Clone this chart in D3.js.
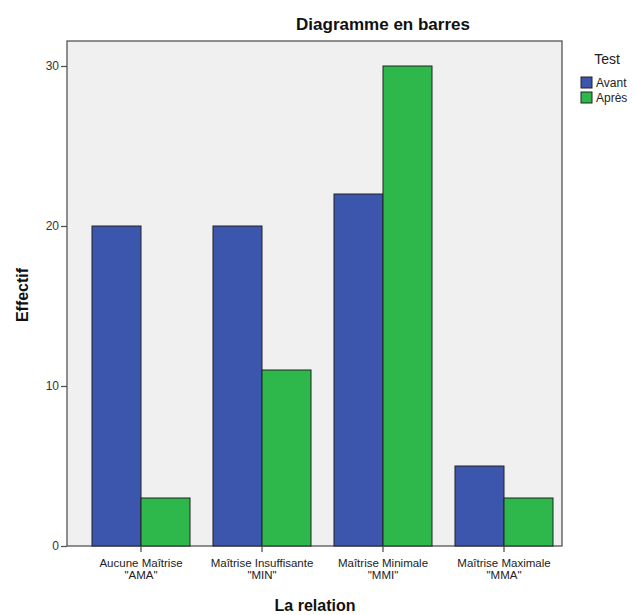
<!DOCTYPE html>
<html>
<head>
<meta charset="utf-8">
<script src="https://d3js.org/d3.v7.min.js"></script>
<style>
body { margin: 0; background: #fff; }
text { font-family: "Liberation Sans", Arial, sans-serif; }
</style>
</head>
<body>
<svg width="635" height="615"></svg>
<script>
// data
var categories = ["Aucune Maîtrise\n\"AMA\"", "Maîtrise Insuffisante\n\"MIN\"", "Maîtrise Minimale\n\"MMI\"", "Maîtrise Maximale\n\"MMA\""];
var series = ["Avant", "Après"];
var avant = [20, 20, 22, 5];
var apres = [3, 11, 30, 3];
var yTicks = [0, 10, 20, 30];
var colors = ["#3d56ad", "#2eb84b"];

var svg = d3.select("svg");

// plot frame
var pLeft = 67, pRight = 562, pTop = 41, pBottom = 546;

var x = d3.scaleBand().domain(categories).range([80.5, 564.5]).paddingInner(0.19).paddingOuter(0.095);
var xs = d3.scaleBand().domain(series).range([0, x.bandwidth()]);
var y = d3.scaleLinear().domain([0, (pBottom - pTop) / 16]).range([pBottom, pTop]);

// panel
svg.append("rect")
    .attr("x", pLeft).attr("y", pTop)
    .attr("width", pRight - pLeft).attr("height", pBottom - pTop)
    .attr("fill", "#f0f0f0").attr("stroke", "#555").attr("stroke-width", 1.3);

// bars
var rows = categories.map(function(c, i) { return {cat: c, vals: [avant[i], apres[i]]}; });
var g = svg.selectAll("g.grp").data(rows).enter().append("g")
    .attr("class", "grp")
    .attr("transform", function(d) { return "translate(" + x(d.cat) + ",0)"; });
g.selectAll("rect").data(function(d) { return d.vals.map(function(v, j) { return {s: series[j], v: v, j: j}; }); })
    .enter().append("rect")
    .attr("x", function(d) { return xs(d.s); })
    .attr("width", xs.bandwidth())
    .attr("y", function(d) { return y(d.v); })
    .attr("height", function(d) { return y(0) - y(d.v); })
    .attr("fill", function(d) { return colors[d.j]; })
    .attr("stroke", "#222").attr("stroke-width", 1);

// y axis
var ya = svg.append("g").attr("transform", "translate(" + pLeft + ",0)")
    .call(d3.axisLeft(y).tickValues(yTicks).tickSize(6).tickPadding(2));
ya.select(".domain").remove();
ya.selectAll("line").attr("stroke", "#555").attr("stroke-width", 1.3);
ya.selectAll("text").attr("font-size", 12).attr("fill", "#333").attr("font-family", "Liberation Sans, Arial, sans-serif");

// x axis
var xa = svg.append("g").attr("transform", "translate(0," + pBottom + ")")
    .call(d3.axisBottom(x).tickSize(6).tickFormat(""));
xa.select(".domain").remove();
xa.selectAll("line").attr("stroke", "#555").attr("stroke-width", 1.3);
xa.selectAll(".tick").each(function(d) {
    var t = d3.select(this).append("text")
        .attr("fill", "#222").attr("font-size", 11.5).attr("text-anchor", "middle")
        .attr("font-family", "Liberation Sans, Arial, sans-serif");
    d.split("\n").forEach(function(line, i) {
        t.append("tspan").attr("x", 0).attr("y", 21 + i * 12).text(line);
    });
});

// titles
svg.append("text").attr("x", 383).attr("y", 30).attr("text-anchor", "middle")
    .attr("font-size", 17).attr("font-weight", "bold").attr("fill", "#111")
    .text("Diagramme en barres");
svg.append("text").attr("x", 315).attr("y", 611).attr("text-anchor", "middle")
    .attr("font-size", 16).attr("font-weight", "bold").attr("fill", "#111")
    .text("La relation");
svg.append("text").attr("transform", "translate(28,295) rotate(-90)").attr("text-anchor", "middle")
    .attr("font-size", 16).attr("font-weight", "bold").attr("fill", "#111")
    .text("Effectif");

// legend
var lg = svg.append("g").attr("transform", "translate(581,0)");
lg.append("text").attr("x", 26).attr("y", 64).attr("text-anchor", "middle")
    .attr("font-size", 14).attr("fill", "#222").text("Test");
var li = lg.selectAll("g.li").data(series).enter().append("g")
    .attr("transform", function(d, i) { return "translate(0," + (77 + i * 15) + ")"; });
li.append("rect").attr("width", 11).attr("height", 11)
    .attr("fill", function(d, i) { return colors[i]; })
    .attr("stroke", "#222").attr("stroke-width", 1);
li.append("text").attr("x", 15).attr("y", 10).attr("font-size", 12).attr("fill", "#222").text(function(d) { return d; });
</script>
</body>
</html>
